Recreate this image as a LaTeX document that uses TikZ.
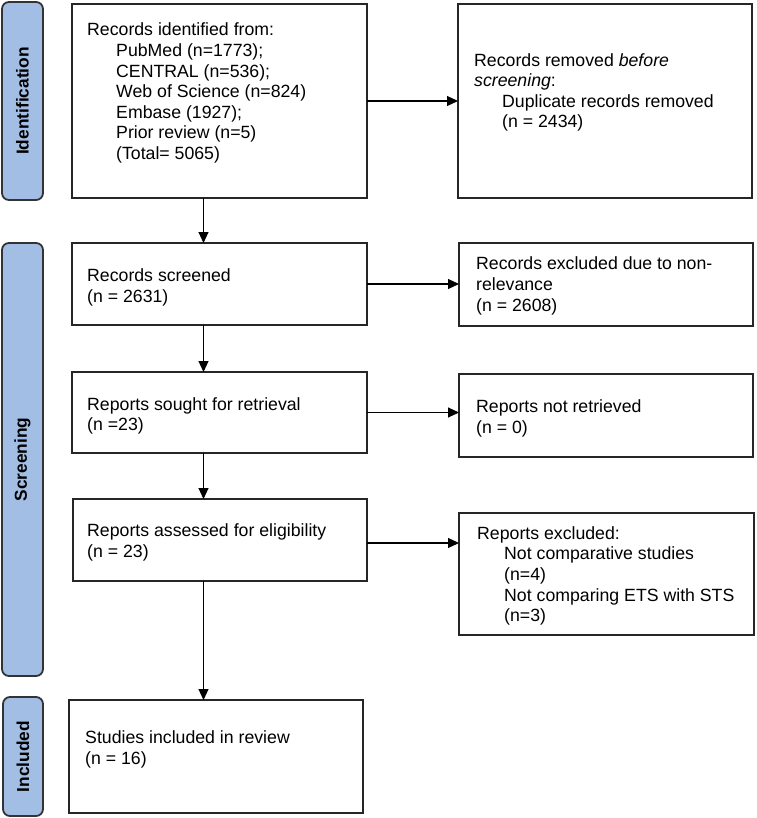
\documentclass[tikz,border=0pt]{standalone}
\usepackage{fontspec}
\setmainfont{Liberation Sans}
\usetikzlibrary{arrows.meta,calc}
\definecolor{barblue}{RGB}{163,190,228}
\begin{document}
\begin{tikzpicture}[x=1pt,y=-1pt,
  box/.style={draw=black!85,line width=1.8pt,inner sep=0pt,outer sep=0pt},
  bar/.style={draw=black!80,line width=1.8pt,fill=barblue,rounded corners=7pt,inner sep=0pt},
  txt/.style={anchor=base west,align=left,inner sep=0pt,font=\fontsize{17.7}{20.6}\selectfont},
  lab/.style={rotate=90,font=\bfseries\fontsize{17.3}{20}\selectfont},
  arr/.style={line width=1.1pt,-{Triangle[length=11pt,width=10pt]}}]
\useasboundingbox (0,0) rectangle (756,818);
% side bars
\node[bar,minimum width=41,minimum height=198] (b1) at (22.5,101) {};
\node[bar,minimum width=41,minimum height=433] (b2) at (22.5,459.5) {};
\node[bar,minimum width=40,minimum height=119] (b3) at (23,756.5) {};
\node[lab] (l1) at (b1.center) {Identification};
\node[lab] (l2) at (b2.center) {Screening};
\node[lab] (l3) at (b3.center) {Included};
% boxes
\node[box,minimum width=295,minimum height=194] (id) at (219.5,101) {};
\node[box,minimum width=294,minimum height=194] (dup) at (605,101) {};
\node[box,minimum width=295,minimum height=82] (scr) at (219.5,284) {};
\node[box,minimum width=294,minimum height=83] (rex) at (606,284.5) {};
\node[box,minimum width=295,minimum height=81] (sou) at (219.5,412.5) {};
\node[box,minimum width=294,minimum height=83] (nrt) at (606,415.5) {};
\node[box,minimum width=294,minimum height=82] (ass) at (220,540) {};
\node[box,minimum width=295,minimum height=122] (rep) at (606.5,574) {};
\node[box,minimum width=294,minimum height=113] (inc) at (216,756.5) {};
% texts (anchored at the baseline of their last line)
\node[txt] (t1) at (87,159.5) {Records identified from:\\
\hspace*{29pt}PubMed (n=1773);\\
\hspace*{29pt}CENTRAL (n=536);\\
\hspace*{29pt}Web of Science (n=824)\\
\hspace*{29pt}Embase (1927);\\
\hspace*{29pt}Prior review (n=5)\\
\hspace*{29pt}(Total= 5065)};
\node[txt] (t2) at (474,128) {Records removed \textit{before}\\
\textit{screening}:\\
\hspace*{28pt}Duplicate records removed\\
\hspace*{28pt}(n = 2434)};
\node[txt] (t3) at (87,302) {Records screened\\(n = 2631)};
\node[txt] (t4) at (476,311) {Records excluded due to non-\\relevance\\(n = 2608)};
\node[txt] (t5) at (87,430.7) {Reports sought for retrieval\\(n =23)};
\node[txt] (t6) at (476,433) {Reports not retrieved\\(n = 0)};
\node[txt] (t7) at (87,557) {Reports assessed for eligibility\\(n = 23)};
\node[txt] (t8) at (477,621.7) {Reports excluded:\\
\hspace*{27pt}Not comparative studies\\
\hspace*{27pt}(n=4)\\
\hspace*{27pt}Not comparing ETS with STS\\
\hspace*{27pt}(n=3)};
\node[txt] (t9) at (85,764.3) {Studies included in review\\(n = 16)};
% arrows
\coordinate (ax) at (203.5,0);
\draw[arr] (id.south -| ax) -- (scr.north -| ax);
\draw[arr] (scr.south -| ax) -- (sou.north -| ax);
\draw[arr] (sou.south -| ax) -- (ass.north -| ax);
\draw[arr] (ass.south -| ax) -- (inc.north -| ax);
\draw[arr] (id.east) -- (id.east -| dup.west);
\draw[arr] (scr.east) -- (scr.east -| rex.west);
\draw[arr] (sou.east) -- (sou.east -| nrt.west);
\draw[arr] ($(ass.east)+(0,3)$) -- ($(ass.east -| rep.west)+(0,3)$);
\end{tikzpicture}
\end{document}
